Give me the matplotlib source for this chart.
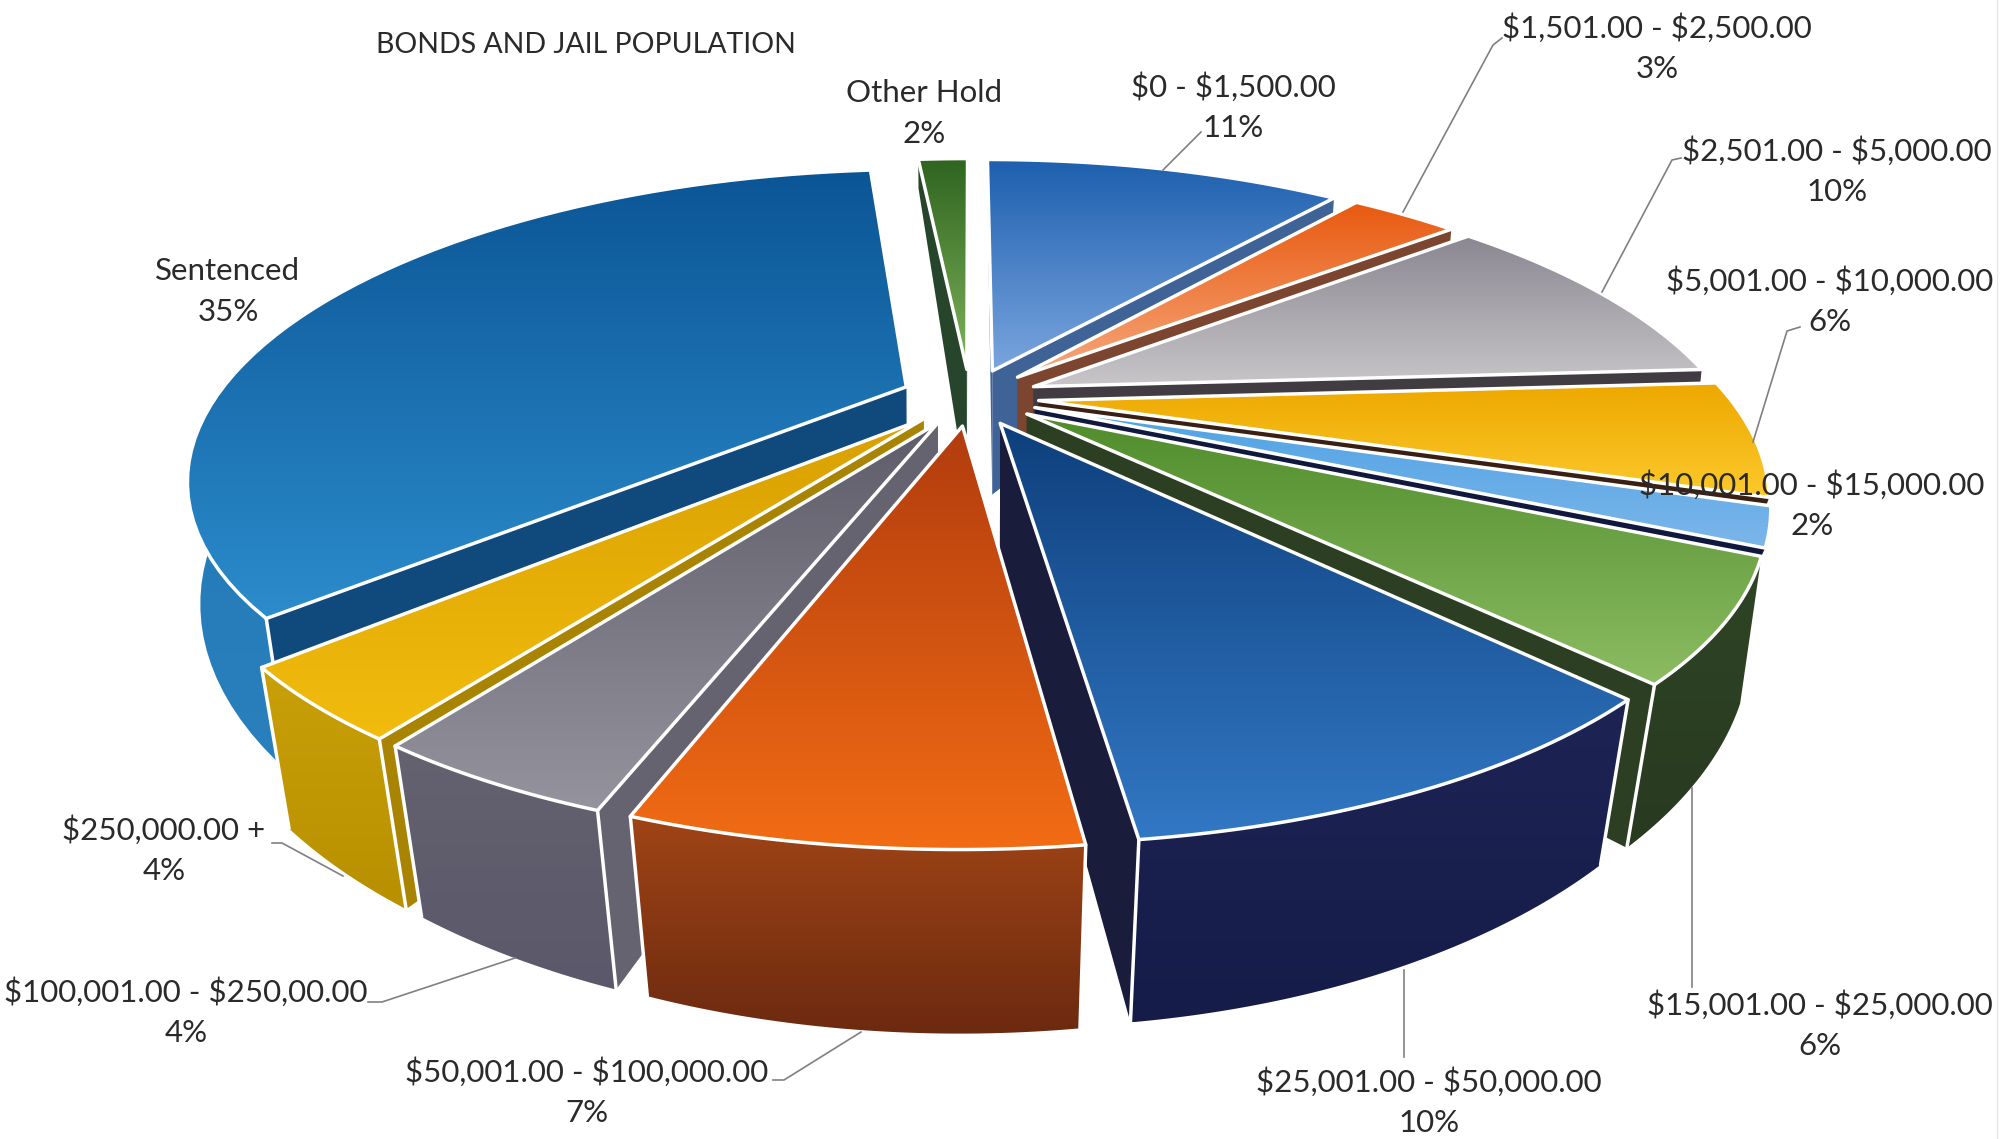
import numpy as np
import matplotlib
matplotlib.use('Agg')
import matplotlib.pyplot as plt
from matplotlib.colors import LinearSegmentedColormap
from matplotlib.patches import Polygon

plt.rcParams['font.family'] = ['Lato', 'DejaVu Sans']

# data, clockwise from 12 o'clock
categories = ['$0 - $1,500.00', '$1,501.00 - $2,500.00', '$2,501.00 - $5,000.00',
              '$5,001.00 - $10,000.00', '$10,001.00 - $15,000.00', '$15,001.00 - $25,000.00',
              '$25,001.00 - $50,000.00', '$50,001.00 - $100,000.00', '$100,001.00 - $250,00.00',
              '$250,000.00 +', 'Sentenced', 'Other Hold']
# labels are rounded, the drawn shares are read a bit finer
shares = [10.8, 3.2, 10.0, 6.0, 2.0, 6.0, 10.0, 7.4, 4.2, 3.6, 35.3, 1.5]
label_pct = [11, 3, 10, 6, 2, 6, 10, 7, 4, 4, 35, 2]

# colours per slice: top face far/near, outer wall top/bottom, cut face
top_far = ['#1d5fae', '#e8590f', '#8b8792', '#eda800', '#4fa2e4', '#4f8c2c',
           '#0e3f7c', '#b23c0e', '#5e5c68', '#d9a000', '#0b5595', '#2f6420']
top_near = ['#7aa5de', '#f6a87c', '#c8c6c8', '#fcc92c', '#7cb6ea', '#8cbc62',
            '#3278c4', '#f26c14', '#95939e', '#f2bc0e', '#2c8ccc', '#7fb35a']
wall_hi = ['#3f6396', '#7c4530', '#403c42', '#3a2012', '#10183e', '#2f4425',
           '#1d2454', '#a04416', '#64626f', '#c9a008', '#1f76b2', '#27452a']
wall_lo = ['#3f6396', '#7c4530', '#403c42', '#3a2012', '#10183e', '#283a20',
           '#161c48', '#6c2a10', '#5a586a', '#b89000', '#2a80bc', '#27452a']
cut_col = ['#3f6396', '#7c4530', '#403c42', '#3a2012', '#10183e', '#2c3f22',
           '#1a1c3c', '#7e3412', '#65636f', '#a88402', '#10497c', '#27452a']

# perspective of the pie, in pixels
cx, cy = 970, 397
sx, sy = 690, 284
drop = 127
persp_x = 0.29
persp_y = 0.282
explode = 0.10


def project(x, d, bottom=False):
    wx = 1 - persp_x * d
    wy = 1 - persp_y * d
    px = sx * x / wx
    py = sy * d / wy
    if bottom:
        shrink = 0.995 - 0.045 * np.clip(d, 0, 1)
        return cx + px * shrink, cy + py + drop / wy
    return cx + px, cy + py


def fill_grad(ax, pts, c1, c2, z):
    # vertical gradient clipped to a polygon
    pts = np.array(pts)
    x0, x1 = pts[:, 0].min(), pts[:, 0].max()
    y0, y1 = pts[:, 1].min(), pts[:, 1].max()
    cmap = LinearSegmentedColormap.from_list('g', [c1, c2])
    im = ax.imshow(np.linspace(0, 1, 256).reshape(-1, 1), cmap=cmap, aspect='auto',
                   extent=(x0, x1, y1, y0), zorder=z, interpolation='bilinear')
    im.set_clip_path(Polygon(pts, closed=True, transform=ax.transData))


fig = plt.figure(figsize=(20.09, 11.39), dpi=100)
ax = fig.add_axes([0, 0, 1, 1])
ax.axis('off')

edges = np.cumsum([0] + shares) / sum(shares) * 2 * np.pi
mids = (edges[:-1] + edges[1:]) / 2
# far slices first, near ones painted over them
order = np.argsort(-np.cos(mids))

z = 2
for i in order:
    t1, t2 = edges[i], edges[i + 1]
    ox, od = explode * np.sin(mids[i]), -explode * np.cos(mids[i])
    t = np.linspace(t1, t2, 60)
    xs, ds = ox + np.sin(t), od - np.cos(t)
    topx, topy = project(xs, ds)
    botx, boty = project(xs, ds, bottom=True)
    ax_top = project(ox, od)
    ax_bot = project(ox, od, bottom=True)

    # cut faces, the ends that point backwards stay behind the nearer slices
    for j in (0, -1):
        low = boty[j]
        if ds[j] < 0.5:
            low = topy[j] + 0.3 * (boty[j] - topy[j])
        face = [ax_top, (topx[j], topy[j]), (botx[j], low), ax_bot]
        ax.add_patch(Polygon(face, closed=True, fc=cut_col[i], ec='none', zorder=z))
    z += 1
    # outer wall
    if ds.max() >= 0.5:
        wall = list(zip(topx, topy)) + list(zip(botx[::-1], boty[::-1]))
        fill_grad(ax, wall, wall_hi[i], wall_lo[i], z)
    z += 1
    for j in (0, -1):
        if ds[j] > 0.5:
            ax.plot([topx[j], botx[j]], [topy[j], boty[j]], color='white', lw=2.5,
                    zorder=z, solid_capstyle='round')
    z += 1
    # top face
    face = [ax_top] + list(zip(topx, topy))
    fill_grad(ax, face, top_far[i], top_near[i], z)
    z += 1
    ax.add_patch(Polygon(face, closed=True, fill=False, ec='white', lw=2.5, zorder=z,
                         joinstyle='round'))
    z += 1

# labels, centre of the category line in pixels
label_xy = [(1233, 87), (1657, 28), (1837, 151), (1830, 281), (1812, 485), (1820, 1005),
            (1429, 1082), (587, 1072), (186, 992), (164, 830), (228, 271), (924, 93)]
for name, pct, (lx, ly) in zip(categories, label_pct, label_xy):
    ax.text(lx, ly, name, ha='center', va='center', fontsize=22.5, color='#2a2a2a',
            zorder=z, parse_math=False)
    ax.text(lx, ly + 41, f'{pct}%', ha='center', va='center', fontsize=22.5,
            color='#2a2a2a', zorder=z, parse_math=False)
ax.text(586, 45, 'BONDS AND JAIL POPULATION', ha='center', va='center', fontsize=20.5,
        color='#2a2a2a', zorder=z)

# leader lines
leaders = [[(1201, 132), (1163, 170)],
           [(1502, 38), (1493, 45), (1403, 212)],
           [(1681, 158), (1672, 160), (1602, 292)],
           [(1800, 327), (1787, 331), (1753, 442)],
           [(1692, 987), (1692, 788)],
           [(1404, 1057), (1404, 970)],
           [(773, 1080), (784, 1080), (861, 1032)],
           [(368, 1002), (382, 1002), (515, 958)],
           [(272, 843), (282, 843), (343, 876)]]
for pts in leaders:
    pts = np.array(pts)
    ax.plot(pts[:, 0], pts[:, 1], color='#808080', lw=1.2, zorder=z)

# faint edge of the scanned page
ax.plot([1997, 1997], [0, 1139], color='#e6e6e6', lw=1, zorder=1)

ax.set_xlim(0, 2009)
ax.set_ylim(1139, 0)
fig.savefig('out.png', dpi=100, facecolor='white')
